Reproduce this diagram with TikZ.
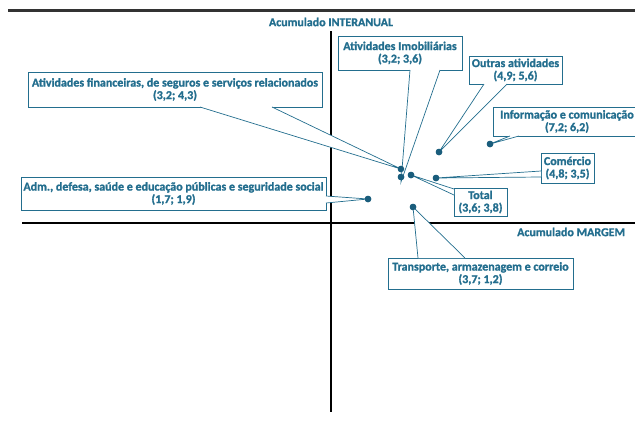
\documentclass[tikz,border=0pt]{standalone}
\usepackage{fontspec}
\setmainfont{Carlito}[Extension=.ttf, UprightFont=*-Regular, BoldFont=*-Bold, BoldFeatures={FakeBold=1.2}]
\definecolor{teal1}{HTML}{236E8E}
\definecolor{dotc}{HTML}{1A5D7C}
\tikzset{
  lbl/.style={draw=teal1, line width=0.9pt, fill=white, inner sep=0pt},
  lbltext/.style={text=teal1, font=\bfseries\fontsize{12}{12.5}\selectfont, align=center},
  wedge/.style={draw=teal1, line width=0.7pt, fill=white, line join=miter},
  pt/.style={circle, fill=dotc, inner sep=0pt, minimum size=6.5pt},
  axis/.style={line width=1.2pt, black},
  axlbl/.style={text=teal1, font=\bfseries\fontsize{12}{12.5}\selectfont, inner sep=0pt}
}
\begin{document}
\begin{tikzpicture}[x=1pt,y=-1pt]
\useasboundingbox (0,0) rectangle (635,421);
\clip (0,0) rectangle (635,421);
% top rule
\draw[line width=3pt, color=black!80] (8,10.5) -- (635,10.5);
% axes
\coordinate (vtop) at (331,31);
\coordinate (vbot) at (331,412);
\coordinate (hl) at (22,223);
\coordinate (hr) at (640,223);
\draw[axis] (vtop) -- (vbot);
\draw[axis] (hl) -- (hr);
\node[axlbl] (ylab) at (331,22) {Acumulado INTERANUAL};
\node[axlbl, anchor=west] (xlab) at (517,232) {Acumulado MARGEM};

% points
\node[pt] (pfin) at (401,169) {};
\node[pt] (pimob) at (401,177) {};
\node[pt] (ptot) at (411,175) {};
\node[pt] (pcom) at (436,178) {};
\node[pt] (pout) at (439,152) {};
\node[pt] (pinfo) at (490,144) {};
\node[pt] (padm) at (368,199) {};
\node[pt] (ptra) at (413,207) {};

% boxes
\draw[lbl] (28,72) rectangle (322,107);
\draw[lbl] (21,177) rectangle (326,210);
\draw[lbl] (338,36) rectangle (462,70);
\draw[lbl] (469,56) rectangle (562,84);
\draw[lbl] (493,107) rectangle (641,136);
\draw[lbl] (541,153) rectangle (594,183);
\draw[lbl] (454,188) rectangle (507,216);
\draw[lbl] (388,258) rectangle (573,289);

% wedges
\draw[wedge] (200,107) -- (pfin.center) -- (272,107);
\draw[wedge] (326,196) -- (padm.center) -- (326,203);
\draw[wedge] (410,70) -- ([yshift=-5pt]pimob.center) -- (440,70);
\draw[wedge] (484,84) -- (pout.center) -- (507,84);
\draw[wedge] (510,136) -- (pinfo.center) -- (519,136);
\draw[wedge] (541,171) -- (pcom.center) -- (541,177);
\draw[wedge] (454,189) -- (ptot.center) -- (454,195);
\draw[wedge] (418,258) -- (ptra.center) -- (465,258);

% redraw dots above wedges
\node[pt] at (pfin) {};
\node[pt] at (pimob) {};
\node[pt] at (ptot) {};
\node[pt] at (pcom) {};
\node[pt] at (pout) {};
\node[pt] at (pinfo) {};
\node[pt] at (padm) {};
\node[pt] at (ptra) {};

% texts
\node[lbltext] (tfin) at (175,89.5) {Atividades financeiras, de seguros e serviços relacionados\\(3,2; 4,3)};
\node[lbltext] (tadm) at (173.5,193.5) {Adm., defesa, saúde e educação públicas e seguridade social\\(1,7; 1,9)};
\node[lbltext] (timob) at (400,53) {Atividades Imobiliárias\\(3,2; 3,6)};
\node[lbltext] (tout) at (515.5,70) {Outras atividades\\(4,9; 5,6)};
\node[lbltext] (tinfo) at (567,121.5) {Informação e comunicação\\(7,2; 6,2)};
\node[lbltext] (tcom) at (567.5,168) {Comércio\\(4,8; 3,5)};
\node[lbltext] (ttot) at (480.5,202) {Total\\(3,6; 3,8)};
\node[lbltext] (ttra) at (480.5,273.5) {Transporte, armazenagem e correio\\(3,7; 1,2)};
\end{tikzpicture}
\end{document}
